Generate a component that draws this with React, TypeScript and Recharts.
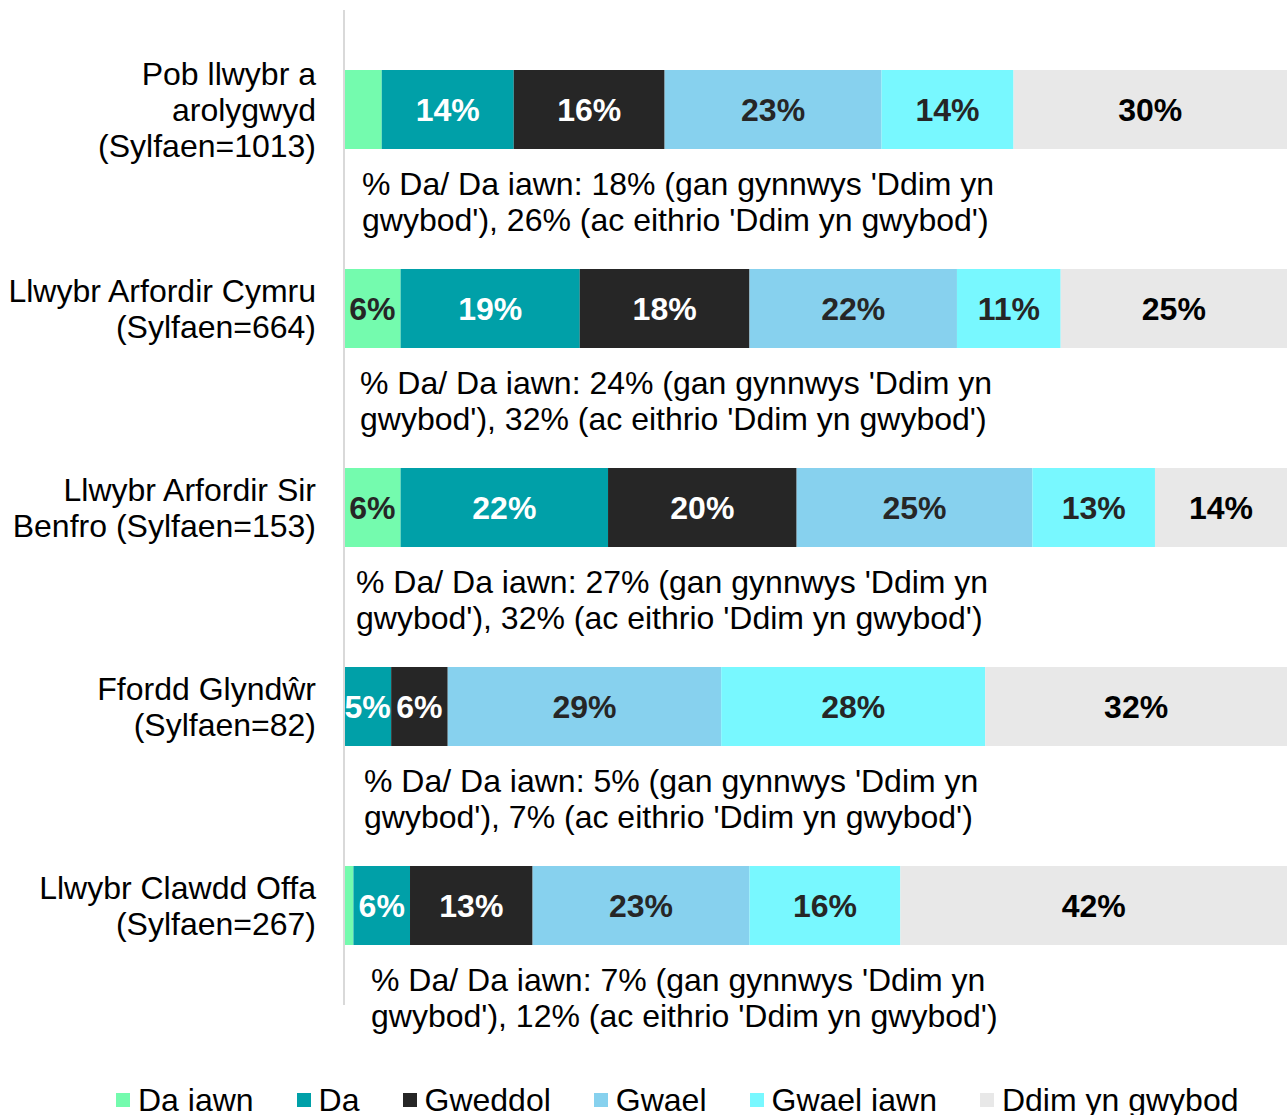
import { BarChart, Bar, XAxis, YAxis, LabelList } from 'recharts'

// categories (one per bar) and the wrapped lines of their axis labels
const categories = [
  'Pob llwybr a arolygwyd (Sylfaen=1013)',
  'Llwybr Arfordir Cymru (Sylfaen=664)',
  'Llwybr Arfordir Sir Benfro (Sylfaen=153)',
  'Ffordd Glyndŵr (Sylfaen=82)',
  'Llwybr Clawdd Offa (Sylfaen=267)',
]
const categoryLines = [
  ['Pob llwybr a', 'arolygwyd', '(Sylfaen=1013)'],
  ['Llwybr Arfordir Cymru', '(Sylfaen=664)'],
  ['Llwybr Arfordir Sir', 'Benfro (Sylfaen=153)'],
  ['Ffordd Glyndŵr', '(Sylfaen=82)'],
  ['Llwybr Clawdd Offa', '(Sylfaen=267)'],
]

// series values (%)
const daIawn = [4, 6, 6, 0, 1]
const da = [14, 19, 22, 5, 6]
const gweddol = [16, 18, 20, 6, 13]
const gwael = [23, 22, 25, 29, 23]
const gwaelIawn = [14, 11, 13, 28, 16]
const ddimYnGwybod = [30, 25, 14, 32, 42]

// note under each bar
const notes = [
  ["% Da/ Da iawn: 18% (gan gynnwys 'Ddim yn", "gwybod'), 26% (ac eithrio 'Ddim yn gwybod')"],
  ["% Da/ Da iawn: 24% (gan gynnwys 'Ddim yn", "gwybod'), 32% (ac eithrio 'Ddim yn gwybod')"],
  ["% Da/ Da iawn: 27% (gan gynnwys 'Ddim yn", "gwybod'), 32% (ac eithrio 'Ddim yn gwybod')"],
  ["% Da/ Da iawn: 5% (gan gynnwys 'Ddim yn", "gwybod'), 7% (ac eithrio 'Ddim yn gwybod')"],
  ["% Da/ Da iawn: 7% (gan gynnwys 'Ddim yn", "gwybod'), 12% (ac eithrio 'Ddim yn gwybod')"],
]

const series = [
  { key: 'daIawn', name: 'Da iawn', color: '#74FBAE', text: '#262626' },
  { key: 'da', name: 'Da', color: '#00A0A8', text: '#FFFFFF' },
  { key: 'gweddol', name: 'Gweddol', color: '#262626', text: '#FFFFFF' },
  { key: 'gwael', name: 'Gwael', color: '#87D1EE', text: '#262626' },
  { key: 'gwaelIawn', name: 'Gwael iawn', color: '#78F8FF', text: '#262626' },
  { key: 'ddim', name: 'Ddim yn gwybod', color: '#E8E8E8', text: '#000000' },
]

const data = categories.map((name, i) => ({
  name,
  daIawn: daIawn[i],
  da: da[i],
  gweddol: gweddol[i],
  gwael: gwael[i],
  gwaelIawn: gwaelIawn[i],
  ddim: ddimYnGwybod[i],
}))

const FONT = '"Liberation Sans", Arial, sans-serif'
const FONT_SIZE = 32
const LINE_H = 36
const AXIS_W = 344
const BAR_H = 79
// small horizontal nudge of each note box, as in the original
const NOTE_DX = [18, 16, 12, 20, 27]

function CategoryTick(props: any) {
  const { y, payload } = props
  const i = categories.indexOf(payload.value)
  const lines = categoryLines[i] || []
  const note = notes[i] || []
  const first = y - ((lines.length - 1) * LINE_H) / 2
  const noteY = y + BAR_H / 2 + 35
  return (
    <g fontFamily={FONT} fontSize={FONT_SIZE} fill="#000000">
      {lines.map((t, k) => (
        <text key={k} x={AXIS_W - 28} y={first + k * LINE_H} textAnchor="end" dominantBaseline="central">
          {t}
        </text>
      ))}
      {note.map((t, k) => (
        <text key={'n' + k} x={AXIS_W + NOTE_DX[i]} y={noteY + k * LINE_H} textAnchor="start" dominantBaseline="central">
          {t}
        </text>
      ))}
    </g>
  )
}

export default function App() {
  return (
    <div style={{ position: 'absolute', left: 0, top: 0, width: 1287, height: 1115, background: '#fff', overflow: 'hidden' }}>
      <BarChart
        width={1287}
        height={1115}
        data={data}
        layout="vertical"
        barSize={BAR_H}
        margin={{ top: 10, right: 0, bottom: 110, left: 0 }}
      >
        {/* rounded shares can add up to 101%: the last segment runs off the edge */}
        <XAxis type="number" hide domain={[0, 100]} allowDataOverflow />
        <YAxis
          type="category"
          dataKey="name"
          width={AXIS_W}
          axisLine={{ stroke: '#D9D9D9', strokeWidth: 2 }}
          tickLine={false}
          tick={CategoryTick}
          interval={0}
        />
        {series.map(s => (
          <Bar key={s.key} dataKey={s.key} name={s.name} stackId="a" fill={s.color} isAnimationActive={false}>
            <LabelList
              dataKey={s.key}
              position="center"
              fill={s.text}
              fontFamily={FONT}
              fontSize={FONT_SIZE}
              fontWeight="bold"
              formatter={(v: any) => (v >= 5 ? `${v}%` : '')}
            />
          </Bar>
        ))}
      </BarChart>

      {/* legend */}
      <div
        style={{
          position: 'absolute', left: 116, top: 1082, height: LINE_H,
          display: 'flex', alignItems: 'center', gap: 43,
          fontFamily: FONT, fontSize: FONT_SIZE, color: '#000', whiteSpace: 'nowrap',
        }}
      >
        {series.map(s => (
          <div key={s.key} style={{ display: 'flex', alignItems: 'center', gap: 8, lineHeight: `${LINE_H}px` }}>
            <span style={{ display: 'inline-block', width: 14, height: 14, background: s.color }} />
            <span>{s.name}</span>
          </div>
        ))}
      </div>
    </div>
  )
}
